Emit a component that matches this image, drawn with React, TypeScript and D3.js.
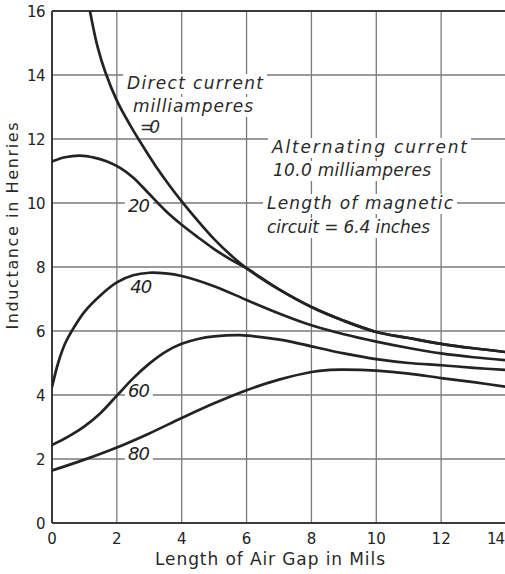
import React from 'react';
import * as d3 from 'd3';

const W = 505;
const H = 574;

const xTicks = [0, 2, 4, 6, 8, 10, 12, 14];
const yTicks = [0, 2, 4, 6, 8, 10, 12, 14, 16];

// Inductance (henries) vs air gap (mils) for each direct current (mA)
const dc0: [number, number][] = [
  [1.17, 16], [1.4, 14.9], [1.64, 14.1], [2.0, 13.2], [2.4, 12.45], [2.8, 11.78],
  [3.2, 11.15], [3.6, 10.58], [4, 10.05], [4.5, 9.44], [5, 8.87], [5.5, 8.38],
  [6, 7.96], [7, 7.3], [8, 6.75], [9, 6.32], [10, 5.97], [11, 5.78], [12, 5.6],
  [13, 5.46], [14, 5.34],
];
const dc20: [number, number][] = [
  [0, 11.3], [0.4, 11.43], [0.86, 11.48], [1.3, 11.42], [1.7, 11.3], [2.1, 11.1],
  [2.5, 10.8], [3, 10.28], [3.5, 9.76], [4, 9.32], [4.5, 8.93], [5, 8.56], [5.5, 8.24],
  [6, 7.96], [7, 7.3], [8, 6.75], [9, 6.32], [10, 5.97], [11, 5.78], [12, 5.6],
  [13, 5.46], [14, 5.34],
];
const dc40: [number, number][] = [
  [0, 4.25], [0.19, 5.0], [0.4, 5.6], [0.61, 6.0], [1.0, 6.6], [1.5, 7.12], [2, 7.52],
  [2.5, 7.74], [3, 7.82], [3.5, 7.8], [4, 7.72], [5, 7.4], [6, 6.97], [7, 6.55],
  [8, 6.18], [9, 5.9], [10, 5.67], [11, 5.47], [12, 5.3], [13, 5.18], [14, 5.09],
];
const dc60: [number, number][] = [
  [0, 2.44], [0.5, 2.7], [1, 3.02], [1.5, 3.44], [2, 3.98], [2.5, 4.52], [3, 4.98],
  [3.5, 5.35], [4, 5.6], [4.5, 5.75], [5, 5.83], [5.8, 5.87], [6.5, 5.8], [7.35, 5.67],
  [8, 5.52], [9, 5.3], [10, 5.12], [11, 5.0], [12, 4.93], [13, 4.85], [14, 4.78],
];
const dc80: [number, number][] = [
  [0, 1.64], [1, 1.98], [2, 2.36], [3, 2.8], [4, 3.28], [5, 3.74], [6, 4.15],
  [7, 4.48], [8, 4.72], [8.5, 4.78], [9, 4.79], [10, 4.76], [11, 4.67], [12, 4.53],
  [13, 4.4], [14, 4.26],
];

const seriesData = [dc0, dc20, dc40, dc60, dc80];
const seriesLabels = ['20', '40', '60', '80'];
// label anchor (air gap, inductance) of each current label
const seriesLabelPos: [number, number][] = [[2.34, 9.73], [2.41, 7.19], [2.34, 3.95], [2.34, 1.97]];

const noteLines = [
  'Direct current',
  'milliamperes',
  '=0',
  'Alternating current',
  '10.0 milliamperes',
  'Length of magnetic',
  'circuit = 6.4 inches',
];
// [x px, baseline px, width px]
const notePos: [number, number, number][] = [
  [127, 89, 136],
  [133, 112, 120],
  [140, 133, 20],
  [272, 153, 195],
  [273, 176, 158],
  [267, 209, 186],
  [267, 233, 163],
];

const xTitle = 'Length of Air Gap in Mils';
const yTitle = 'Inductance in Henries';

export default function App() {
  const x = d3.scaleLinear().domain([0, 14]).range([52, 506]);
  const y = d3.scaleLinear().domain([0, 16]).range([523, 11]);
  const line = d3
    .line<[number, number]>()
    .x((d) => x(d[0]))
    .y((d) => y(d[1]))
    .curve(d3.curveCatmullRom.alpha(0.5));

  const gridColor = '#7a7a7a';
  const ink = '#232323';
  const sans = "'DejaVu Sans', 'Noto Sans', sans-serif";

  return (
    <>
      <style>{`body{margin:0;background:#fff}`}</style>
      <svg width={W} height={H} style={{ display: 'block', background: '#fff' }}>
        <defs>
          <clipPath id="plot">
            <rect x={x(0)} y={y(16)} width={x(14) - x(0)} height={y(0) - y(16)} />
          </clipPath>
        </defs>
        {/* grid */}
        {xTicks.filter((t) => t > 0).map((t) => (
          <line key={'gx' + t} x1={x(t)} x2={x(t)} y1={y(0)} y2={y(16)} stroke={gridColor} strokeWidth={1.3} />
        ))}
        {yTicks.filter((t) => t > 0 && t < 16).map((t) => (
          <line key={'gy' + t} x1={x(0)} x2={x(14)} y1={y(t)} y2={y(t)} stroke={gridColor} strokeWidth={1.3} />
        ))}
        {/* white label backgrounds */}
        {notePos.map((p, i) => (
          <rect key={'nb' + i} x={p[0] - 4} y={p[1] - 15} width={p[2] + 8} height={20} fill="#fff" />
        ))}
        {seriesLabelPos.map((p, i) => (
          <rect key={'sb' + i} x={x(p[0]) - 3} y={y(p[1]) - 15} width={28} height={17} fill="#fff" />
        ))}
        {/* frame */}
        <line x1={x(0)} x2={x(14)} y1={y(16)} y2={y(16)} stroke="#3a3a3a" strokeWidth={2} />
        <line x1={x(0)} x2={x(0)} y1={y(0)} y2={y(16)} stroke="#3a3a3a" strokeWidth={2} />
        <line x1={x(0)} x2={x(14)} y1={y(0)} y2={y(0)} stroke="#3a3a3a" strokeWidth={2.2} />
        {/* curves */}
        <g clipPath="url(#plot)">
          {seriesData.map((s, i) => (
            <path key={'c' + i} d={line(s) || ''} fill="none" stroke={ink} strokeWidth={2.7} strokeLinecap="round" />
          ))}
        </g>
        {/* series labels */}
        {seriesLabels.map((l, i) => (
          <text key={'sl' + i} x={x(seriesLabelPos[i][0])} y={y(seriesLabelPos[i][1])} fontFamily={sans}
            fontStyle="italic" fontSize={18} fill={ink} textLength={22}>{l}</text>
        ))}
        {/* notes */}
        {noteLines.map((l, i) => (
          <text key={'n' + i} x={notePos[i][0]} y={notePos[i][1]} fontFamily={sans} fontStyle="italic"
            fontSize={17} fill="#2a2a2a" textLength={notePos[i][2]}>{l}</text>
        ))}
        {/* ticks */}
        {xTicks.map((t, i) => {
          const last = i === xTicks.length - 1;
          return (
            <text key={'tx' + t} x={last ? W - 1 : x(t)} y={544} textAnchor={last ? 'end' : 'middle'}
              fontFamily={sans} fontSize={15} fill={ink} letterSpacing={last ? -1 : 0}>{t}</text>
          );
        })}
        {yTicks.map((t) => (
          <text key={'ty' + t} x={45} y={y(t) + 6} textAnchor="end" fontFamily={sans} fontSize={15} fill={ink}
            letterSpacing={-0.5}>{t}</text>
        ))}
        {/* titles */}
        <text x={270} y={565} textAnchor="middle" fontFamily={sans} fontSize={17} fill="#2a2a2a" textLength={230}>{xTitle}</text>
        <text transform={`translate(18,${226}) rotate(-90)`} textAnchor="middle" fontFamily={sans} fontSize={16}
          fill="#2a2a2a" textLength={207}>{yTitle}</text>
      </svg>
    </>
  );
}
